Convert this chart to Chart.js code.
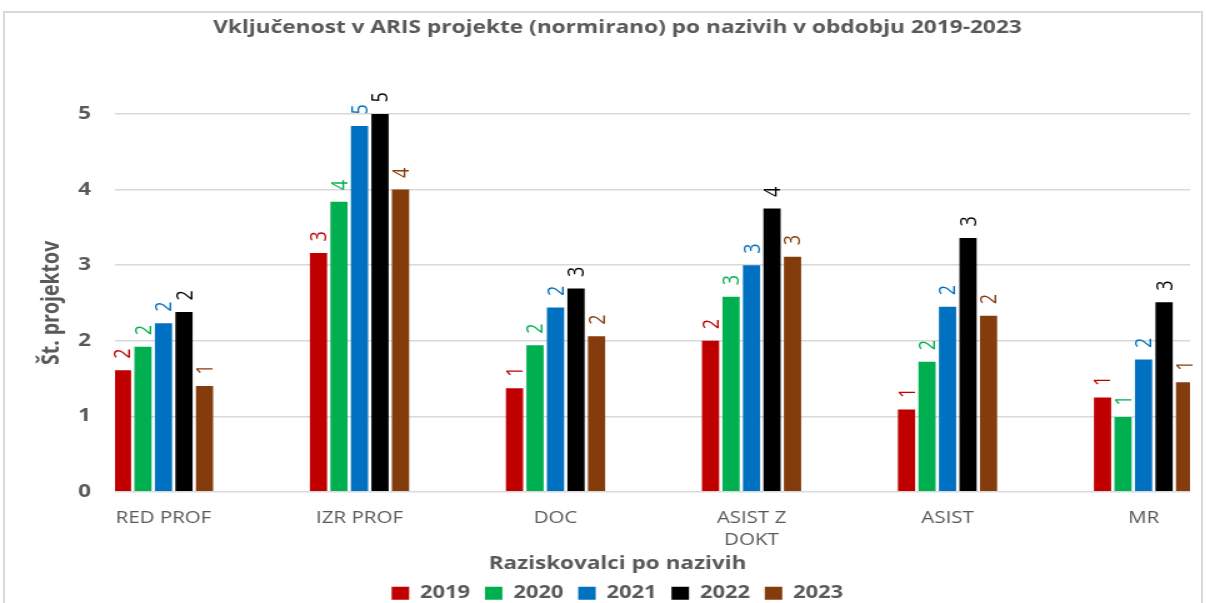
<!DOCTYPE html>
<html>
<head>
<meta charset="utf-8">
<script src="https://cdn.jsdelivr.net/npm/chart.js@4.4.1/dist/chart.umd.min.js"></script>
<style>
  html, body { margin: 0; padding: 0; background: #ffffff; overflow: hidden; }
  #wrap { position: absolute; left: 0; top: 0; width: 1206px; height: 603px; overflow: hidden; background: #ffffff; }
  #frame { position: absolute; left: 3px; top: 11px; width: 1200px; height: 640px; border: 2px solid #d9d9d9; box-sizing: border-box; }
  #c { position: absolute; left: 0; top: 0; transform: scaleX(1.25); transform-origin: 0 0; }
</style>
</head>
<body>
<div id="wrap">
  <div id="frame"></div>
  <canvas id="c" width="980" height="612"></canvas>
</div>
<script>
// ---- data ----
const categories = ['RED PROF', 'IZR PROF', 'DOC', ['ASIST Z', 'DOKT'], 'ASIST', 'MR'];
const years = ['2019', '2020', '2021', '2022', '2023'];
const v2019 = [1.61, 3.16, 1.37, 2.00, 1.09, 1.25];
const v2020 = [1.92, 3.84, 1.94, 2.58, 1.72, 0.99];
const v2021 = [2.23, 4.84, 2.44, 3.00, 2.45, 1.75];
const v2022 = [2.38, 5.00, 2.69, 3.75, 3.36, 2.51];
const v2023 = [1.40, 4.00, 2.06, 3.11, 2.33, 1.45];
const yTicks = [0, 1, 2, 3, 4, 5];
const titleText = 'Vključenost v ARIS projekte (normirano) po nazivih v obdobju 2019-2023';
const xTitleText = 'Raziskovalci po nazivih';
const yTitleText = 'Št. projektov';

const seriesValues = [v2019, v2020, v2021, v2022, v2023];
const seriesColors = ['#C00000', '#00B050', '#0070C0', '#000000', '#843C0C'];

const FONT = '"Open Sans", "DejaVu Sans", sans-serif';
const GRAY = '#595959';

const valueLabels = {
  id: 'valueLabels',
  afterDatasetsDraw(chart) {
    const ctx = chart.ctx;
    chart.data.datasets.forEach((ds, di) => {
      const meta = chart.getDatasetMeta(di);
      meta.data.forEach((bar, i) => {
        const v = ds.data[i].y;
        ctx.save();
        ctx.translate(bar.x, bar.y - 11.5);
        ctx.rotate(-Math.PI / 2);
        ctx.font = '18px ' + FONT;
        ctx.fillStyle = ds.backgroundColor;
        ctx.textAlign = 'left';
        ctx.textBaseline = 'alphabetic';
        ctx.fillText(String(Math.round(v)), 0, 6.4);
        ctx.restore();
      });
    });
  }
};

function build() {
  const datasets = years.map((y, k) => ({
    label: y,
    data: seriesValues[k].map((v, i) => ({ x: i, y: v })),
    backgroundColor: seriesColors[k],
    borderWidth: 0,
    categoryPercentage: 0.523,
    barPercentage: 0.84
  }));

  new Chart(document.getElementById('c'), {
    type: 'bar',
    data: { datasets },
    plugins: [valueLabels],
    options: {
      responsive: false,
      animation: false,
      devicePixelRatio: 1,
      layout: { padding: { left: 7.9, right: 0, top: 0, bottom: 0 } },
      scales: {
        x: {
          type: 'linear',
          offset: false,
          min: -0.2474,
          max: 5.237,
          afterBuildTicks: (s) => { s.ticks = categories.map((_, i) => ({ value: i })); },
          afterFit: (s) => { s.height = 60; },
          grid: { display: false, drawTicks: false, tickLength: 0 },
          border: { display: false },
          ticks: {
            autoSkip: false,
            maxRotation: 0,
            padding: 15,
            color: GRAY,
            font: { family: FONT, size: 16.4, lineHeight: 1.341 },
            callback: (value) => categories[value]
          }
        },
        y: {
          min: 0,
          max: 5,
          afterBuildTicks: (s) => { s.ticks = yTicks.map(v => ({ value: v })); },
          afterFit: (s) => { s.width = 84.1; },
          grid: { color: '#d9d9d9', lineWidth: 1.5, drawTicks: false, tickLength: 0 },
          border: { display: false },
          ticks: {
            padding: 19.2,
            color: GRAY,
            font: { family: FONT, size: 18, weight: 'bold' }
          },
          title: {
            display: true,
            text: yTitleText,
            color: GRAY,
            font: { family: FONT, size: 19.5, weight: 'bold', lineHeight: 1.2 },
            padding: { top: 21.5, bottom: 0 }
          }
        },
        y2: {
          axis: 'y',
          type: 'linear',
          position: 'right',
          display: true,
          grid: { display: false, drawTicks: false },
          border: { display: false },
          ticks: { display: false },
          afterFit: (s) => { s.width = 28; }
        }
      },
      plugins: {
        title: {
          display: true,
          text: titleText,
          color: GRAY,
          font: { family: FONT, size: 18.15, weight: 'bold', lineHeight: 1.2 },
          padding: { top: 17.2, bottom: 75.0 }
        },
        subtitle: {
          display: true,
          position: 'bottom',
          weight: 500,
          text: xTitleText,
          color: GRAY,
          font: { family: FONT, size: 18, weight: 'bold', lineHeight: 1.0 },
          padding: { top: 2.8, bottom: 0 }
        },
        legend: {
          display: true,
          position: 'bottom',
          weight: 1000,
          labels: {
            color: GRAY,
            font: { family: FONT, size: 17.5, weight: 'bold' },
            boxWidth: 14,
            boxHeight: 13,
            padding: 11.85
          }
        },
        tooltip: { enabled: false }
      }
    }
  });
}

const fontLoads = [
  document.fonts.load('bold 18px "Open Sans"'),
  document.fonts.load('18px "Open Sans"')
];
Promise.race([Promise.all(fontLoads), new Promise(r => setTimeout(r, 1500))]).then(build, build);
</script>
</body>
</html>
